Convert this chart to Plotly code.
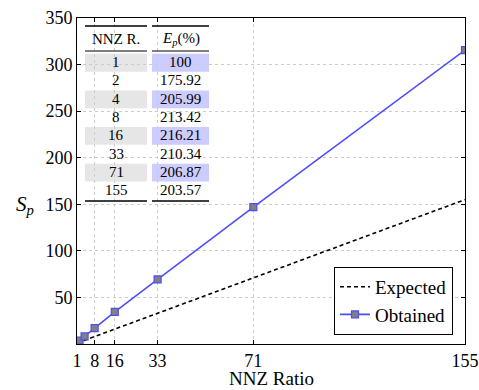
import plotly.graph_objects as go

nnz_ratio = [1, 2, 4, 8, 16, 33, 71, 155]
efficiency = [100, 175.92, 205.99, 213.42, 216.21, 210.34, 206.87, 203.57]
efficiency_labels = ["100", "175.92", "205.99", "213.42", "216.21", "210.34", "206.87", "203.57"]
expected_x = [1, 155]
expected_y = [1, 155]
obtained_y = [r * e / 100 for r, e in zip(nnz_ratio, efficiency)]
x_ticks = [1, 8, 16, 33, 71, 155]
y_ticks = [50, 100, 150, 200, 250, 300, 350]

FONT = "Liberation Serif"
W, H = 479, 390
L, R, T, B = 77, 14, 18, 46
PW, PH = W - L - R, H - T - B

def px(xp):
    return (xp - L) / PW

def py(yp):
    return (H - B - yp) / PH

fig = go.Figure()
fig.add_trace(go.Scatter(x=expected_x, y=expected_y, mode="lines", name="Expected",
                         line=dict(color="black", width=1.6, dash="4px,3px")))
fig.add_trace(go.Scatter(x=nnz_ratio, y=obtained_y, mode="lines+markers", name="Obtained",
                         line=dict(color="#4d4dff", width=1.6),
                         marker=dict(symbol="square", size=7, color="#808080",
                                     line=dict(color="#4d4dff", width=1.2))))

shapes = []
annotations = []
c1 = (85, 147)
c2 = (152, 209)
row0 = 62
dy = 18.3
tf = dict(family=FONT, size=15, color="black")
for i, (r, e) in enumerate(zip(nnz_ratio, efficiency_labels)):
    yc = row0 + i * dy
    if i % 2 == 0:
        shapes.append(dict(type="rect", xref="paper", yref="paper", layer="below",
                           x0=px(c1[0]), x1=px(c1[1]), y0=py(yc - dy / 2 + 1), y1=py(yc + dy / 2 + 0.5),
                           fillcolor="#e6e6e6", line=dict(width=0)))
        shapes.append(dict(type="rect", xref="paper", yref="paper", layer="below",
                           x0=px(c2[0]), x1=px(c2[1]), y0=py(yc - dy / 2 + 1), y1=py(yc + dy / 2 + 0.5),
                           fillcolor="#ccccff", line=dict(width=0)))
    annotations.append(dict(x=px((c1[0] + c1[1]) / 2), y=py(yc), xref="paper", yref="paper",
                            xanchor="center", yanchor="middle",
                            text=str(r), showarrow=False, font=tf))
    annotations.append(dict(x=px((c2[0] + c2[1]) / 2), y=py(yc), xref="paper", yref="paper",
                            xanchor="center", yanchor="middle",
                            text=e, showarrow=False, font=tf))
annotations.append(dict(x=px((c1[0] + c1[1]) / 2), y=py(39), xref="paper", yref="paper",
                        xanchor="center", yanchor="middle",
                        text="NNZ R.", showarrow=False, font=tf))
annotations.append(dict(x=px((c2[0] + c2[1]) / 2), y=py(39), xref="paper", yref="paper",
                        xanchor="center", yanchor="middle",
                        text="<i>E</i><sub><i>p</i></sub>(%)", showarrow=False, font=tf))
for yr, w in [(26, 1.5), (51, 1.0), (201, 1.5)]:
    for c in (c1, c2):
        shapes.append(dict(type="line", xref="paper", yref="paper", x0=px(c[0]), x1=px(c[1]),
                           y0=py(yr), y1=py(yr), line=dict(color="black", width=w)))

annotations.append(dict(x=px(25), y=py(205), xref="paper", yref="paper",
                        xanchor="center", yanchor="middle",
                        text="<i>S</i><sub><i>p</i></sub>", showarrow=False,
                        font=dict(family=FONT, size=21, color="black")))
annotations.append(dict(x=px(271), y=py(378), xref="paper", yref="paper",
                        xanchor="center", yanchor="middle",
                        text="NNZ Ratio", showarrow=False,
                        font=dict(family=FONT, size=19, color="black")))

big = dict(family=FONT, size=18, color="black")
fig.update_layout(
    template="none",
    width=W, height=H, margin=dict(l=L, r=R, t=T, b=B),
    paper_bgcolor="white", plot_bgcolor="white",
    font=big,
    shapes=shapes, annotations=annotations,
    legend=dict(x=0.969, y=0.028, xanchor="right", yanchor="bottom",
                bordercolor="black", borderwidth=1, bgcolor="white",
                font=dict(family=FONT, size=19, color="black"),
                tracegroupgap=0, itemwidth=30),
    xaxis=dict(range=[1, 155], tickvals=x_ticks, ticktext=[str(v) for v in x_ticks],
               tickfont=big, ticklabeloverflow="allow",
               showgrid=True, gridcolor="#cccccc", griddash="dot", gridwidth=1,
               showline=True, linecolor="black", linewidth=1, mirror="ticks",
               ticks="inside", ticklen=4, tickcolor="black", zeroline=False),
    yaxis=dict(range=[0, 350], tickvals=y_ticks, tickfont=big,
               showgrid=True, gridcolor="#cccccc", griddash="dot", gridwidth=1,
               showline=True, linecolor="black", linewidth=1, mirror="ticks",
               ticks="inside", ticklen=4, tickcolor="black", zeroline=False),
)
fig.write_html("out.html")
